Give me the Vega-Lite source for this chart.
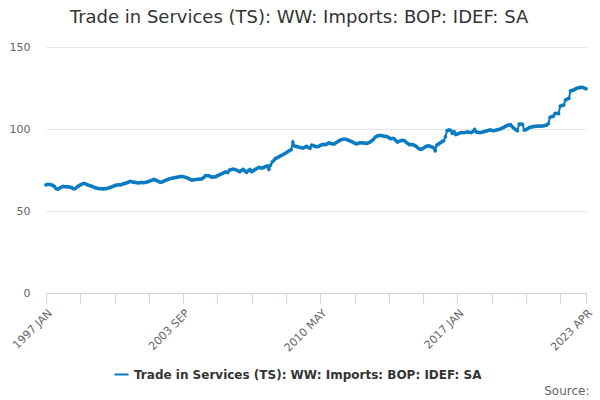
{
  "$schema": "https://vega.github.io/schema/vega-lite/v6.json",
  "width": 540,
  "height": 246,
  "autosize": {"type": "none"},
  "padding": {"left": 46, "top": 47, "right": 14, "bottom": 107},
  "background": "white",
  "title": {
    "text": "Trade in Services (TS): WW: Imports: BOP: IDEF: SA",
    "font": "DejaVu Sans",
    "fontSize": 18,
    "fontWeight": "normal",
    "color": "#333333",
    "anchor": "middle",
    "dx": -17,
    "offset": 14
  },
  "data": {
    "values": [
      {"period": "1997 JAN", "value": 66.0}, {"period": "1997 FEB", "value": 66.2}, {"period": "1997 MAR", "value": 66.3}, {"period": "1997 APR", "value": 66.0}, {"period": "1997 MAY", "value": 65.6}, {"period": "1997 JUN", "value": 64.8}, {"period": "1997 JUL", "value": 63.6}, {"period": "1997 AUG", "value": 63.3}, {"period": "1997 SEP", "value": 64.0}, {"period": "1997 OCT", "value": 64.6}, {"period": "1997 NOV", "value": 65.0}, {"period": "1997 DEC", "value": 64.8},
      {"period": "1998 JAN", "value": 64.9}, {"period": "1998 FEB", "value": 64.7}, {"period": "1998 MAR", "value": 64.5}, {"period": "1998 APR", "value": 64.2}, {"period": "1998 MAY", "value": 63.6}, {"period": "1998 JUN", "value": 63.7}, {"period": "1998 JUL", "value": 64.6}, {"period": "1998 AUG", "value": 65.3}, {"period": "1998 SEP", "value": 65.9}, {"period": "1998 OCT", "value": 66.4}, {"period": "1998 NOV", "value": 66.9}, {"period": "1998 DEC", "value": 66.6},
      {"period": "1999 JAN", "value": 66.1}, {"period": "1999 FEB", "value": 65.7}, {"period": "1999 MAR", "value": 65.3}, {"period": "1999 APR", "value": 65.0}, {"period": "1999 MAY", "value": 64.5}, {"period": "1999 JUN", "value": 64.1}, {"period": "1999 JUL", "value": 63.8}, {"period": "1999 AUG", "value": 63.7}, {"period": "1999 SEP", "value": 63.6}, {"period": "1999 OCT", "value": 63.5}, {"period": "1999 NOV", "value": 63.6}, {"period": "1999 DEC", "value": 63.6},
      {"period": "2000 JAN", "value": 63.9}, {"period": "2000 FEB", "value": 64.2}, {"period": "2000 MAR", "value": 64.6}, {"period": "2000 APR", "value": 65.0}, {"period": "2000 MAY", "value": 65.4}, {"period": "2000 JUN", "value": 65.8}, {"period": "2000 JUL", "value": 66.0}, {"period": "2000 AUG", "value": 65.9}, {"period": "2000 SEP", "value": 66.1}, {"period": "2000 OCT", "value": 66.5}, {"period": "2000 NOV", "value": 66.8}, {"period": "2000 DEC", "value": 67.2},
      {"period": "2001 JAN", "value": 67.6}, {"period": "2001 FEB", "value": 68.1}, {"period": "2001 MAR", "value": 67.9}, {"period": "2001 APR", "value": 67.6}, {"period": "2001 MAY", "value": 67.4}, {"period": "2001 JUN", "value": 67.3}, {"period": "2001 JUL", "value": 67.2}, {"period": "2001 AUG", "value": 67.3}, {"period": "2001 SEP", "value": 67.4}, {"period": "2001 OCT", "value": 67.3}, {"period": "2001 NOV", "value": 67.5}, {"period": "2001 DEC", "value": 67.7},
      {"period": "2002 JAN", "value": 68.0}, {"period": "2002 FEB", "value": 68.5}, {"period": "2002 MAR", "value": 68.9}, {"period": "2002 APR", "value": 69.3}, {"period": "2002 MAY", "value": 68.8}, {"period": "2002 JUN", "value": 68.3}, {"period": "2002 JUL", "value": 67.8}, {"period": "2002 AUG", "value": 67.5}, {"period": "2002 SEP", "value": 67.9}, {"period": "2002 OCT", "value": 68.3}, {"period": "2002 NOV", "value": 68.8}, {"period": "2002 DEC", "value": 69.3},
      {"period": "2003 JAN", "value": 69.6}, {"period": "2003 FEB", "value": 69.9}, {"period": "2003 MAR", "value": 70.1}, {"period": "2003 APR", "value": 70.3}, {"period": "2003 MAY", "value": 70.5}, {"period": "2003 JUN", "value": 70.7}, {"period": "2003 JUL", "value": 70.9}, {"period": "2003 AUG", "value": 71.1}, {"period": "2003 SEP", "value": 70.9}, {"period": "2003 OCT", "value": 70.7}, {"period": "2003 NOV", "value": 70.3}, {"period": "2003 DEC", "value": 69.9},
      {"period": "2004 JAN", "value": 69.4}, {"period": "2004 FEB", "value": 68.9}, {"period": "2004 MAR", "value": 69.0}, {"period": "2004 APR", "value": 69.2}, {"period": "2004 MAY", "value": 69.3}, {"period": "2004 JUN", "value": 69.4}, {"period": "2004 JUL", "value": 69.5}, {"period": "2004 AUG", "value": 69.6}, {"period": "2004 SEP", "value": 70.5}, {"period": "2004 OCT", "value": 71.5}, {"period": "2004 NOV", "value": 71.6}, {"period": "2004 DEC", "value": 71.5},
      {"period": "2005 JAN", "value": 70.9}, {"period": "2005 FEB", "value": 70.7}, {"period": "2005 MAR", "value": 70.8}, {"period": "2005 APR", "value": 70.9}, {"period": "2005 MAY", "value": 71.5}, {"period": "2005 JUN", "value": 72.0}, {"period": "2005 JUL", "value": 72.5}, {"period": "2005 AUG", "value": 73.0}, {"period": "2005 SEP", "value": 73.5}, {"period": "2005 OCT", "value": 73.8}, {"period": "2005 NOV", "value": 73.4}, {"period": "2005 DEC", "value": 75.0},
      {"period": "2006 JAN", "value": 75.3}, {"period": "2006 FEB", "value": 75.6}, {"period": "2006 MAR", "value": 75.4}, {"period": "2006 APR", "value": 75.0}, {"period": "2006 MAY", "value": 74.5}, {"period": "2006 JUN", "value": 74.0}, {"period": "2006 JUL", "value": 74.8}, {"period": "2006 AUG", "value": 75.4}, {"period": "2006 SEP", "value": 74.4}, {"period": "2006 OCT", "value": 73.6}, {"period": "2006 NOV", "value": 74.6}, {"period": "2006 DEC", "value": 75.4},
      {"period": "2007 JAN", "value": 74.0}, {"period": "2007 FEB", "value": 74.6}, {"period": "2007 MAR", "value": 75.4}, {"period": "2007 APR", "value": 75.9}, {"period": "2007 MAY", "value": 76.6}, {"period": "2007 JUN", "value": 76.4}, {"period": "2007 JUL", "value": 76.2}, {"period": "2007 AUG", "value": 76.6}, {"period": "2007 SEP", "value": 77.0}, {"period": "2007 OCT", "value": 77.5}, {"period": "2007 NOV", "value": 75.4}, {"period": "2007 DEC", "value": 78.0},
      {"period": "2008 JAN", "value": 80.0}, {"period": "2008 FEB", "value": 81.0}, {"period": "2008 MAR", "value": 82.1}, {"period": "2008 APR", "value": 82.6}, {"period": "2008 MAY", "value": 83.1}, {"period": "2008 JUN", "value": 83.7}, {"period": "2008 JUL", "value": 84.3}, {"period": "2008 AUG", "value": 84.9}, {"period": "2008 SEP", "value": 85.5}, {"period": "2008 OCT", "value": 86.2}, {"period": "2008 NOV", "value": 86.8}, {"period": "2008 DEC", "value": 87.4},
      {"period": "2009 JAN", "value": 92.0}, {"period": "2009 FEB", "value": 89.6}, {"period": "2009 MAR", "value": 89.4}, {"period": "2009 APR", "value": 89.1}, {"period": "2009 MAY", "value": 88.8}, {"period": "2009 JUN", "value": 88.6}, {"period": "2009 JUL", "value": 88.4}, {"period": "2009 AUG", "value": 88.9}, {"period": "2009 SEP", "value": 89.4}, {"period": "2009 OCT", "value": 88.8}, {"period": "2009 NOV", "value": 88.2}, {"period": "2009 DEC", "value": 90.2},
      {"period": "2010 JAN", "value": 89.8}, {"period": "2010 FEB", "value": 89.4}, {"period": "2010 MAR", "value": 89.2}, {"period": "2010 APR", "value": 89.4}, {"period": "2010 MAY", "value": 90.0}, {"period": "2010 JUN", "value": 90.4}, {"period": "2010 JUL", "value": 90.6}, {"period": "2010 AUG", "value": 90.4}, {"period": "2010 SEP", "value": 91.0}, {"period": "2010 OCT", "value": 91.6}, {"period": "2010 NOV", "value": 91.2}, {"period": "2010 DEC", "value": 91.0},
      {"period": "2011 JAN", "value": 90.8}, {"period": "2011 FEB", "value": 91.6}, {"period": "2011 MAR", "value": 92.2}, {"period": "2011 APR", "value": 92.9}, {"period": "2011 MAY", "value": 93.4}, {"period": "2011 JUN", "value": 93.7}, {"period": "2011 JUL", "value": 93.8}, {"period": "2011 AUG", "value": 93.7}, {"period": "2011 SEP", "value": 93.3}, {"period": "2011 OCT", "value": 92.9}, {"period": "2011 NOV", "value": 92.4}, {"period": "2011 DEC", "value": 92.0},
      {"period": "2012 JAN", "value": 91.4}, {"period": "2012 FEB", "value": 90.9}, {"period": "2012 MAR", "value": 91.3}, {"period": "2012 APR", "value": 91.6}, {"period": "2012 MAY", "value": 91.6}, {"period": "2012 JUN", "value": 91.6}, {"period": "2012 JUL", "value": 91.4}, {"period": "2012 AUG", "value": 91.2}, {"period": "2012 SEP", "value": 91.6}, {"period": "2012 OCT", "value": 92.0}, {"period": "2012 NOV", "value": 92.8}, {"period": "2012 DEC", "value": 93.7},
      {"period": "2013 JAN", "value": 95.0}, {"period": "2013 FEB", "value": 95.7}, {"period": "2013 MAR", "value": 96.0}, {"period": "2013 APR", "value": 96.1}, {"period": "2013 MAY", "value": 95.9}, {"period": "2013 JUN", "value": 95.7}, {"period": "2013 JUL", "value": 95.5}, {"period": "2013 AUG", "value": 95.3}, {"period": "2013 SEP", "value": 94.8}, {"period": "2013 OCT", "value": 94.1}, {"period": "2013 NOV", "value": 94.3}, {"period": "2013 DEC", "value": 94.1},
      {"period": "2014 JAN", "value": 93.0}, {"period": "2014 FEB", "value": 92.0}, {"period": "2014 MAR", "value": 92.5}, {"period": "2014 APR", "value": 92.9}, {"period": "2014 MAY", "value": 93.0}, {"period": "2014 JUN", "value": 92.9}, {"period": "2014 JUL", "value": 92.0}, {"period": "2014 AUG", "value": 91.2}, {"period": "2014 SEP", "value": 90.4}, {"period": "2014 OCT", "value": 90.6}, {"period": "2014 NOV", "value": 90.4}, {"period": "2014 DEC", "value": 90.0},
      {"period": "2015 JAN", "value": 89.4}, {"period": "2015 FEB", "value": 88.4}, {"period": "2015 MAR", "value": 87.8}, {"period": "2015 APR", "value": 87.7}, {"period": "2015 MAY", "value": 88.2}, {"period": "2015 JUN", "value": 88.9}, {"period": "2015 JUL", "value": 89.6}, {"period": "2015 AUG", "value": 89.7}, {"period": "2015 SEP", "value": 89.6}, {"period": "2015 OCT", "value": 89.1}, {"period": "2015 NOV", "value": 88.6}, {"period": "2015 DEC", "value": 86.8},
      {"period": "2016 JAN", "value": 90.2}, {"period": "2016 FEB", "value": 90.9}, {"period": "2016 MAR", "value": 91.6}, {"period": "2016 APR", "value": 92.3}, {"period": "2016 MAY", "value": 92.9}, {"period": "2016 JUN", "value": 95.3}, {"period": "2016 JUL", "value": 99.0}, {"period": "2016 AUG", "value": 99.4}, {"period": "2016 SEP", "value": 99.2}, {"period": "2016 OCT", "value": 97.4}, {"period": "2016 NOV", "value": 98.4}, {"period": "2016 DEC", "value": 96.6},
      {"period": "2017 JAN", "value": 97.0}, {"period": "2017 FEB", "value": 97.4}, {"period": "2017 MAR", "value": 97.8}, {"period": "2017 APR", "value": 97.8}, {"period": "2017 MAY", "value": 97.8}, {"period": "2017 JUN", "value": 98.0}, {"period": "2017 JUL", "value": 98.2}, {"period": "2017 AUG", "value": 98.0}, {"period": "2017 SEP", "value": 97.8}, {"period": "2017 OCT", "value": 98.4}, {"period": "2017 NOV", "value": 99.8}, {"period": "2017 DEC", "value": 98.2},
      {"period": "2018 JAN", "value": 98.0}, {"period": "2018 FEB", "value": 97.8}, {"period": "2018 MAR", "value": 98.0}, {"period": "2018 APR", "value": 98.2}, {"period": "2018 MAY", "value": 98.5}, {"period": "2018 JUN", "value": 98.8}, {"period": "2018 JUL", "value": 99.1}, {"period": "2018 AUG", "value": 99.4}, {"period": "2018 SEP", "value": 99.2}, {"period": "2018 OCT", "value": 99.0}, {"period": "2018 NOV", "value": 99.2}, {"period": "2018 DEC", "value": 99.4},
      {"period": "2019 JAN", "value": 99.7}, {"period": "2019 FEB", "value": 100.0}, {"period": "2019 MAR", "value": 100.5}, {"period": "2019 APR", "value": 101.0}, {"period": "2019 MAY", "value": 101.6}, {"period": "2019 JUN", "value": 102.2}, {"period": "2019 JUL", "value": 102.4}, {"period": "2019 AUG", "value": 102.6}, {"period": "2019 SEP", "value": 101.4}, {"period": "2019 OCT", "value": 100.4}, {"period": "2019 NOV", "value": 99.6}, {"period": "2019 DEC", "value": 99.0},
      {"period": "2020 JAN", "value": 103.0}, {"period": "2020 FEB", "value": 103.0}, {"period": "2020 MAR", "value": 102.8}, {"period": "2020 APR", "value": 99.4}, {"period": "2020 MAY", "value": 99.6}, {"period": "2020 JUN", "value": 100.2}, {"period": "2020 JUL", "value": 101.0}, {"period": "2020 AUG", "value": 101.2}, {"period": "2020 SEP", "value": 101.4}, {"period": "2020 OCT", "value": 101.6}, {"period": "2020 NOV", "value": 101.8}, {"period": "2020 DEC", "value": 101.8},
      {"period": "2021 JAN", "value": 101.8}, {"period": "2021 FEB", "value": 101.8}, {"period": "2021 MAR", "value": 101.9}, {"period": "2021 APR", "value": 102.2}, {"period": "2021 MAY", "value": 102.4}, {"period": "2021 JUN", "value": 103.3}, {"period": "2021 JUL", "value": 107.1}, {"period": "2021 AUG", "value": 107.5}, {"period": "2021 SEP", "value": 107.9}, {"period": "2021 OCT", "value": 109.6}, {"period": "2021 NOV", "value": 109.6}, {"period": "2021 DEC", "value": 109.4},
      {"period": "2022 JAN", "value": 114.0}, {"period": "2022 FEB", "value": 114.4}, {"period": "2022 MAR", "value": 114.6}, {"period": "2022 APR", "value": 117.7}, {"period": "2022 MAY", "value": 118.2}, {"period": "2022 JUN", "value": 118.7}, {"period": "2022 JUL", "value": 123.2}, {"period": "2022 AUG", "value": 123.5}, {"period": "2022 SEP", "value": 123.8}, {"period": "2022 OCT", "value": 124.6}, {"period": "2022 NOV", "value": 125.0}, {"period": "2022 DEC", "value": 125.2},
      {"period": "2023 JAN", "value": 125.4}, {"period": "2023 FEB", "value": 125.4}, {"period": "2023 MAR", "value": 125.0}, {"period": "2023 APR", "value": 124.6}
    ]
  },
  "mark": {
    "type": "line",
    "strokeWidth": 2,
    "point": {"filled": true, "size": 14}
  },
  "encoding": {
    "x": {
      "field": "period",
      "type": "ordinal",
      "sort": null,
      "scale": {"type": "point", "padding": 0},
      "axis": {
        "title": "Source:",
        "values": ["1997 JAN", "1998 SEP", "2000 MAY", "2002 JAN", "2003 SEP", "2005 MAY", "2007 JAN", "2008 SEP", "2010 MAY", "2012 JAN", "2013 SEP", "2015 MAY", "2017 JAN", "2018 SEP", "2020 MAY", "2022 JAN", "2023 APR"],
        "labelExpr": "indexof(['1997 JAN', '2003 SEP', '2010 MAY', '2017 JAN', '2023 APR'], datum.value) >= 0 ? datum.value : ''",
        "labelAngle": -45,
        "labelFont": "DejaVu Sans",
        "labelFontSize": 11,
        "labelColor": "#666666",
        "labelPadding": 4,
        "labelOverlap": false,
        "domainColor": "#ccd6eb",
        "tickColor": "#ccd6eb",
        "tickSize": 10,
        "grid": false,
        "titleFont": "DejaVu Sans",
        "titleFontSize": 12,
        "titleFontWeight": "normal",
        "titleColor": "#666666",
        "titleAnchor": "end",
        "titleAlign": "right",
        "titleBaseline": "alphabetic",
        "titleX": 543,
        "titleY": 101
      }
    },
    "y": {
      "field": "value",
      "type": "quantitative",
      "scale": {"domain": [0, 150]},
      "axis": {
        "title": null,
        "values": [0, 50, 100, 150],
        "domain": false,
        "ticks": false,
        "gridColor": "#e6e6e6",
        "labelFont": "DejaVu Sans",
        "labelFontSize": 11,
        "labelColor": "#666666",
        "labelPadding": 16
      }
    },
    "color": {
      "datum": "Trade in Services (TS): WW: Imports: BOP: IDEF: SA",
      "scale": {"range": ["#0a7bc2"]},
      "legend": {
        "title": null,
        "orient": "none",
        "legendX": 67,
        "legendY": 319,
        "symbolType": "stroke",
        "symbolStrokeWidth": 2,
        "symbolSize": 200,
        "labelFont": "DejaVu Sans",
        "labelFontSize": 12,
        "labelFontWeight": "bold",
        "labelColor": "#333333",
        "labelLimit": 500
      }
    }
  },
  "config": {
    "view": {"stroke": null}
  }
}
